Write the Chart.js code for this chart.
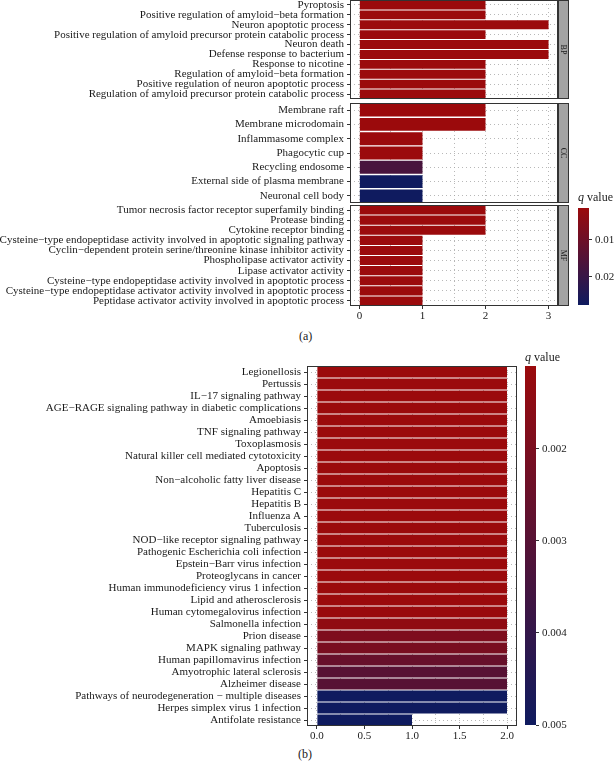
<!DOCTYPE html>
<html>
<head>
<meta charset="utf-8">
<script src="https://cdn.jsdelivr.net/npm/chart.js@4.4.1/dist/chart.umd.min.js"></script>
<style>
html, body { margin: 0; padding: 0; background: #fff; }
body { width: 614px; height: 761px; position: relative; overflow: hidden; font-family: "Liberation Serif", serif; color: #1a1a1a; }
canvas { position: absolute; }
.lbl { position: absolute; font-size: 12px; white-space: nowrap; line-height: 1; }
</style>
</head>
<body>
<canvas id="bpChart" style="left:0;top:0" width="600" height="100"></canvas>
<canvas id="ccChart" style="left:0;top:102px" width="600" height="101"></canvas>
<canvas id="mfChart" style="left:0;top:204px" width="600" height="121"></canvas>
<canvas id="qbarA" style="left:570px;top:200px" width="44" height="115"></canvas>
<div class="lbl" style="left:578px;top:191px"><i>q</i> value</div>
<div class="lbl" style="left:299px;top:330px">(a)</div>

<canvas id="keggChart" style="left:0;top:360px" width="600" height="386"></canvas>
<canvas id="qbarB" style="left:518px;top:360px" width="96" height="386"></canvas>
<div class="lbl" style="left:525px;top:351px"><i>q</i> value</div>
<div class="lbl" style="left:298px;top:748px">(b)</div>

<script>
// GO terms (a), one facet each
const bpTerms = ['Pyroptosis', 'Positive regulation of amyloid\u2212beta formation', 'Neuron apoptotic process',
    'Positive regulation of amyloid precursor protein catabolic process', 'Neuron death', 'Defense response to bacterium',
    'Response to nicotine', 'Regulation of amyloid\u2212beta formation', 'Positive regulation of neuron apoptotic process',
    'Regulation of amyloid precursor protein catabolic process'];
const bpCounts = [2, 2, 3, 2, 3, 3, 2, 2, 2, 2];
const bpQ = [0.0014, 0.0014, 0.0014, 0.0014, 0.0014, 0.0014, 0.0014, 0.0014, 0.0014, 0.0014];

const ccTerms = ['Membrane raft', 'Membrane microdomain', 'Inflammasome complex', 'Phagocytic cup',
    'Recycling endosome', 'External side of plasma membrane', 'Neuronal cell body'];
const ccCounts = [2, 2, 1, 1, 1, 1, 1];
const ccQ = [0.0014, 0.0014, 0.0014, 0.0014, 0.017, 0.0276, 0.0276];

const mfTerms = ['Tumor necrosis factor receptor superfamily binding', 'Protease binding', 'Cytokine receptor binding',
    'Cysteine\u2212type endopeptidase activity involved in apoptotic signaling pathway',
    'Cyclin\u2212dependent protein serine/threonine kinase inhibitor activity', 'Phospholipase activator activity',
    'Lipase activator activity', 'Cysteine\u2212type endopeptidase activity involved in apoptotic process',
    'Cysteine\u2212type endopeptidase activator activity involved in apoptotic process',
    'Peptidase activator activity involved in apoptotic process'];
const mfCounts = [2, 2, 2, 1, 1, 1, 1, 1, 1, 1];
const mfQ = [0.0014, 0.0014, 0.0014, 0.0014, 0.0014, 0.0014, 0.0014, 0.0014, 0.0014, 0.0014];

// KEGG pathways (b)
const keggTerms = ['Legionellosis', 'Pertussis', 'IL\u221217 signaling pathway', 'AGE\u2212RAGE signaling pathway in diabetic complications',
    'Amoebiasis', 'TNF signaling pathway', 'Toxoplasmosis', 'Natural killer cell mediated cytotoxicity', 'Apoptosis',
    'Non\u2212alcoholic fatty liver disease', 'Hepatitis C', 'Hepatitis B', 'Influenza A', 'Tuberculosis',
    'NOD\u2212like receptor signaling pathway', 'Pathogenic Escherichia coli infection', 'Epstein\u2212Barr virus infection',
    'Proteoglycans in cancer', 'Human immunodeficiency virus 1 infection', 'Lipid and atherosclerosis',
    'Human cytomegalovirus infection', 'Salmonella infection', 'Prion disease', 'MAPK signaling pathway',
    'Human papillomavirus infection', 'Amyotrophic lateral sclerosis', 'Alzheimer disease',
    'Pathways of neurodegeneration \u2212 multiple diseases', 'Herpes simplex virus 1 infection', 'Antifolate resistance'];
const keggCounts = [2, 2, 2, 2, 2, 2, 2, 2, 2, 2, 2, 2, 2, 2, 2, 2, 2, 2, 2, 2, 2, 2, 2, 2, 2, 2, 2, 2, 2, 1];
const keggQ = [0.0011, 0.0011, 0.0011, 0.0011, 0.0011, 0.0011, 0.0011, 0.0011, 0.0011, 0.0011,
    0.0011, 0.0011, 0.0011, 0.0011, 0.0011, 0.0011, 0.0011, 0.0011, 0.0011, 0.0011,
    0.00115, 0.0014, 0.0019, 0.00205, 0.00255, 0.003, 0.003, 0.005, 0.005, 0.005];

// axis ticks
const gridA = [0, 0.5, 1, 1.5, 2, 2.5, 3];
const countTicksA = [0, 1, 2, 3];
const gridB = [0, 0.25, 0.5, 0.75, 1, 1.25, 1.5, 1.75, 2];
const countTicksB = [0, 0.5, 1, 1.5, 2];
const qTicksA = [0.01, 0.02];
const qTicksB = [0.002, 0.003, 0.004, 0.005];

const LOW = [155, 10, 12];
const HIGH = [15, 27, 95];
const FONT = '"Liberation Serif", serif';
const INK = '#1a1a1a';
const GRID = '#a6a6a6';

function qColor(q, qMin, qMax) {
    const t = Math.max(0, Math.min(1, (q - qMin) / (qMax - qMin)));
    const c = LOW.map((v, i) => Math.round(v + (HIGH[i] - v) * t));
    return `rgb(${c[0]},${c[1]},${c[2]})`;
}

// no auto padding from tick labels, chart area is set by layout padding only
function noPad(s) {
    s.paddingTop = 0; s.paddingBottom = 0; s.paddingLeft = 0; s.paddingRight = 0;
}

const framePlugin = {
    id: 'frame',
    afterDraw(chart) {
        const a = chart.chartArea, ctx = chart.ctx;
        ctx.save();
        ctx.strokeStyle = '#333';
        ctx.lineWidth = 1;
        ctx.strokeRect(Math.round(a.left) + 0.5, Math.round(a.top) + 0.5,
            Math.round(a.right - a.left) - 1, Math.round(a.bottom - a.top) - 1);
        ctx.restore();
    }
};

function makeStrip(text) {
    return {
        id: 'strip',
        afterDraw(chart) {
            const a = chart.chartArea, ctx = chart.ctx;
            const x = Math.round(a.right) + 0.5, top = Math.round(a.top) + 0.5;
            const h = Math.round(a.bottom - a.top) - 1;
            ctx.save();
            ctx.fillStyle = '#a3a3a3';
            ctx.fillRect(x, top, 10, h);
            ctx.strokeStyle = '#333';
            ctx.lineWidth = 1;
            ctx.strokeRect(x, top, 10, h);
            ctx.translate(x + 5, top + h / 2);
            ctx.rotate(Math.PI / 2);
            ctx.fillStyle = INK;
            ctx.font = '8px ' + FONT;
            ctx.textAlign = 'center';
            ctx.textBaseline = 'middle';
            ctx.fillText(text, 0, 0);
            ctx.restore();
        }
    };
}

function makeBars(id, terms, counts, qs, qMin, qMax, o) {
    const tickCol = v => o.labelled.includes(v) ? '#333' : 'rgba(0,0,0,0)';
    return new Chart(document.getElementById(id), {
        type: 'bar',
        data: {
            labels: terms,
            datasets: [{
                data: counts,
                backgroundColor: qs.map(q => qColor(q, qMin, qMax)),
                barPercentage: 0.9, categoryPercentage: 1, borderWidth: 0
            }]
        },
        options: {
            indexAxis: 'y', responsive: false, animation: false,
            layout: { padding: o.padding, autoPadding: false },
            plugins: { legend: { display: false }, tooltip: { enabled: false } },
            scales: {
                x: {
                    min: o.xMin, max: o.xMax,
                    afterBuildTicks: s => { s.ticks = o.grid.map(v => ({ value: v })); },
                    afterFit: s => { s.height = o.xAxisH; noPad(s); },
                    ticks: {
                        display: o.xAxisH > 0, autoSkip: false, maxRotation: 0, padding: 1,
                        color: INK, font: { family: FONT, size: 11 },
                        callback: v => o.labelled.includes(v) ? o.fmt(v) : ''
                    },
                    grid: {
                        color: GRID, lineWidth: 0.8, drawTicks: o.xAxisH > 0, tickLength: 3,
                        tickColor: c => c.tick ? tickCol(c.tick.value) : 'rgba(0,0,0,0)', tickWidth: 1,
                        borderDash: [1, 3]
                    },
                    border: { display: false, dash: [1, 3] }
                },
                y: {
                    afterFit: s => { s.width = o.yAxisW; noPad(s); },
                    ticks: { autoSkip: false, padding: 3, color: INK, font: { family: FONT, size: 11 } },
                    grid: {
                        offset: false, color: GRID, lineWidth: 0.8, tickLength: 3,
                        tickColor: '#333', tickWidth: 1, borderDash: [1, 3]
                    },
                    border: { display: false, dash: [1, 3] }
                }
            }
        },
        plugins: o.strip ? [framePlugin, makeStrip(o.strip)] : [framePlugin]
    });
}

function makeColorbar(id, qs, qTicks, padding, axisW) {
    const qMin = Math.min(...qs), qMax = Math.max(...qs);
    const low = qColor(qMin, qMin, qMax), high = qColor(qMax, qMin, qMax);
    return new Chart(document.getElementById(id), {
        type: 'bar',
        data: {
            labels: ['q'],
            datasets: [{
                data: [[qMin, qMax]],
                backgroundColor: c => {
                    const ys = c.chart.scales.y;
                    if (!ys || !c.chart.chartArea) return low;
                    const g = c.chart.ctx.createLinearGradient(0, ys.getPixelForValue(qMin), 0, ys.getPixelForValue(qMax));
                    g.addColorStop(0, low);
                    g.addColorStop(1, high);
                    return g;
                },
                barPercentage: 1, categoryPercentage: 1, borderWidth: 0
            }]
        },
        options: {
            responsive: false, animation: false,
            layout: { padding, autoPadding: false },
            plugins: { legend: { display: false }, tooltip: { enabled: false } },
            scales: {
                x: { display: false },
                y: {
                    position: 'right', reverse: true, min: qMin, max: qMax,
                    afterFit: s => { s.width = axisW; noPad(s); },
                    afterBuildTicks: s => { s.ticks = qTicks.map(v => ({ value: v })); },
                    ticks: { padding: 3, color: INK, font: { family: FONT, size: 11 }, callback: v => String(v) },
                    grid: { drawOnChartArea: false, tickLength: 3, tickColor: '#333', tickWidth: 1 },
                    border: { display: false }
                }
            }
        }
    });
}

const qMinA = Math.min(...bpQ, ...ccQ, ...mfQ), qMaxA = Math.max(...bpQ, ...ccQ, ...mfQ);
const facetBase = { xMin: -0.15, xMax: 3.15, grid: gridA, labelled: countTicksA, fmt: v => String(v), yAxisW: 350 };

makeBars('bpChart', bpTerms, bpCounts, bpQ, qMinA, qMaxA,
    Object.assign({}, facetBase, { padding: { top: 0, bottom: 1, left: 0, right: 42 }, xAxisH: 0, strip: 'BP' }));
makeBars('ccChart', ccTerms, ccCounts, ccQ, qMinA, qMaxA,
    Object.assign({}, facetBase, { padding: { top: 1, bottom: 0, left: 0, right: 42 }, xAxisH: 0, strip: 'CC' }));
makeBars('mfChart', mfTerms, mfCounts, mfQ, qMinA, qMaxA,
    Object.assign({}, facetBase, { padding: { top: 1, bottom: 0, left: 0, right: 42 }, xAxisH: 19, strip: 'MF' }));
makeColorbar('qbarA', [...bpQ, ...ccQ, ...mfQ], qTicksA, { top: 8, bottom: 10, left: 8, right: 0 }, 25);

const qMinB = Math.min(...keggQ), qMaxB = Math.max(...keggQ);
makeBars('keggChart', keggTerms, keggCounts, keggQ, qMinB, qMaxB, {
    xMin: -0.105, xMax: 2.105, grid: gridB, labelled: countTicksB, fmt: v => v.toFixed(1),
    yAxisW: 307, xAxisH: 20, padding: { top: 6, bottom: 0, left: 0, right: 83 }
});
makeColorbar('qbarB', keggQ, qTicksB, { top: 6, bottom: 21, left: 7, right: 0 }, 78);
</script>
</body>
</html>
